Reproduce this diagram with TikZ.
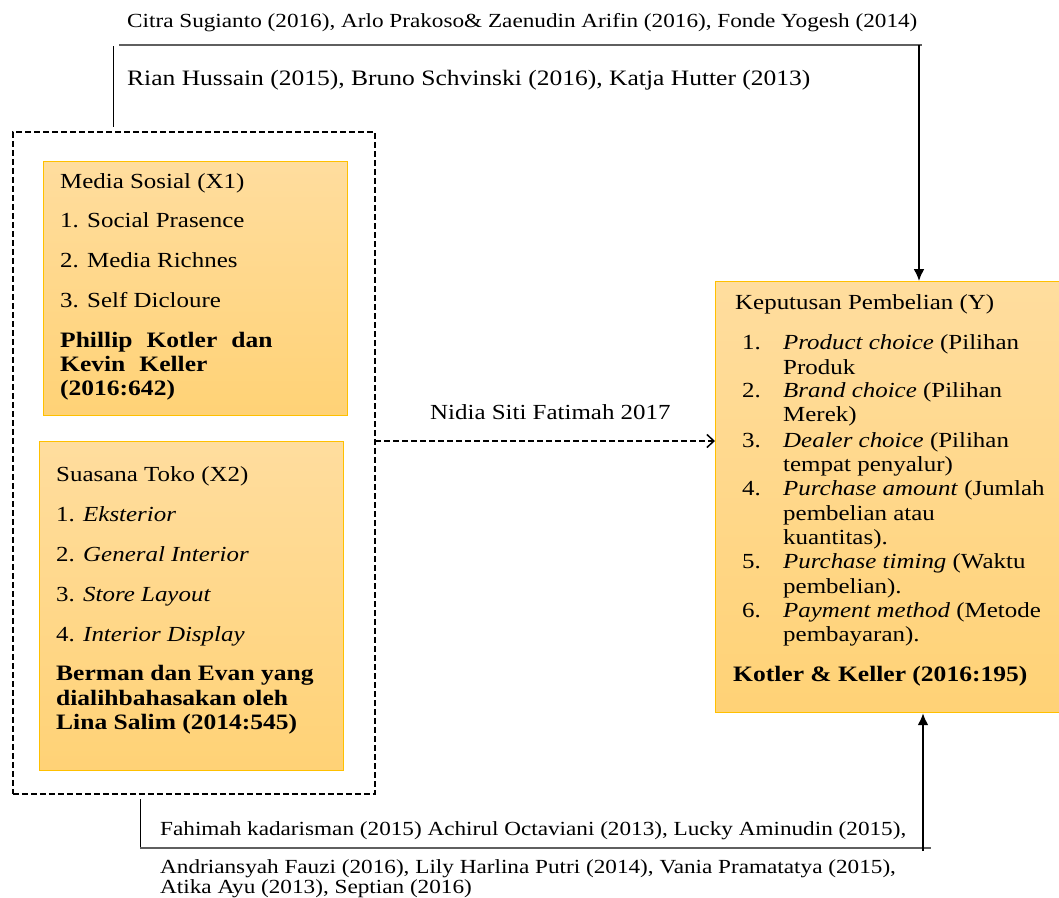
\documentclass[tikz,border=0pt]{standalone}
\usepackage{fontspec}
\setmainfont{Liberation Serif}[FakeStretch=1.16]
\usetikzlibrary{arrows.meta}
\definecolor{boxtop}{RGB}{255,221,158}
\definecolor{boxbot}{RGB}{255,210,118}
\definecolor{boxedge}{RGB}{255,192,0}
\definecolor{linegray}{RGB}{95,95,95}
\tikzset{
  obox/.style={draw=boxedge, line width=1.2pt, top color=boxtop, bottom color=boxbot, anchor=north west, inner sep=0pt},
  txt/.style={inner sep=0pt, anchor=base west, font=\fontsize{21.5}{24}\selectfont},
  btxt/.style={inner sep=0pt, anchor=base west, font=\fontsize{22}{24}\selectfont\bfseries},
  cite/.style={inner sep=0pt, anchor=base west, font=\fontsize{20}{24}\selectfont},
  thinline/.style={draw=black, line width=1pt},
  grayline/.style={draw=linegray, line width=1.6pt},
  solidarrow/.style={draw=black, line width=2pt, -{Latex[length=12pt,width=11pt]}},
  dasharrow/.style={draw=black, line width=1.8pt, dash pattern=on 6pt off 3pt, -{Straight Barb[length=7pt,width=13pt,line width=1.5pt]}},
  dashbox/.style={draw=black, line width=1.9pt, dash pattern=on 6pt off 3pt, anchor=north west, inner sep=0pt}
}
\begin{document}
\begin{tikzpicture}[x=1pt,y=-1pt]
\useasboundingbox (0,0) rectangle (1059,897);
% dashed grouping box
\node[dashbox, minimum width=362pt, minimum height=662pt] (dbox) at (12,131) {};
% boxes
\node[obox, minimum width=304pt, minimum height=254pt] (x1box) at (43,161) {};
\node[obox, minimum width=304pt, minimum height=329pt] (x2box) at (39,441) {};
\node[obox, minimum width=347pt, minimum height=431pt] (ybox) at (715,281) {};
% X1 texts
\node[txt] (x1a) at (60,188) {Media Sosial (X1)};
\node[txt] (x1b) at (60,227) {1. Social Prasence};
\node[txt] (x1c) at (60,267) {2. Media Richnes};
\node[txt] (x1d) at (60,307) {3. Self Dicloure};
\node[btxt] (x1e) at (60,347) {Phillip\hspace{14pt}Kotler\hspace{14pt}dan};
\node[btxt] (x1f) at (60,371) {Kevin\hspace{14pt}Keller};
\node[btxt] (x1g) at (60,395) {(2016:642)};
% X2 texts
\node[txt] (x2a) at (56,481) {Suasana Toko (X2)};
\node[txt] (x2b) at (56,521) {1. \textit{Eksterior}};
\node[txt] (x2c) at (56,561) {2. \textit{General Interior}};
\node[txt] (x2d) at (56,601) {3. \textit{Store Layout}};
\node[txt] (x2e) at (56,641) {4. \textit{Interior Display}};
\node[btxt] (x2f) at (56,680) {Berman dan Evan yang};
\node[btxt] (x2g) at (56,705) {dialihbahasakan oleh};
\node[btxt] (x2h) at (56,729) {Lina Salim (2014:545)};
% Y texts
\node[txt] (ya) at (735,309) {Keputusan Pembelian (Y)};
\node[txt] (yn1) at (742,349) {1.};
\node[txt] (y1a) at (783,349) {\textit{Product choice} (Pilihan};
\node[txt] (y1b) at (783,374) {Produk};
\node[txt] (yn2) at (742,397) {2.};
\node[txt] (y2a) at (783,397) {\textit{Brand choice} (Pilihan};
\node[txt] (y2b) at (783,421) {Merek)};
\node[txt] (yn3) at (742,447) {3.};
\node[txt] (y3a) at (783,447) {\textit{Dealer choice} (Pilihan};
\node[txt] (y3b) at (783,471) {tempat penyalur)};
\node[txt] (yn4) at (742,495) {4.};
\node[txt] (y4a) at (783,495) {\textit{Purchase amount} (Jumlah};
\node[txt] (y4b) at (783,520) {pembelian atau};
\node[txt] (y4c) at (783,544) {kuantitas).};
\node[txt] (yn5) at (742,568) {5.};
\node[txt] (y5a) at (783,568) {\textit{Purchase timing} (Waktu};
\node[txt] (y5b) at (783,593) {pembelian).};
\node[txt] (yn6) at (742,617) {6.};
\node[txt] (y6a) at (783,617) {\textit{Payment method} (Metode};
\node[txt] (y6b) at (783,641) {pembayaran).};
\node[btxt] (yk) at (733,681) {Kotler \& Keller (2016:195)};
% citation texts
\node[cite] (c1) at (127,27) {Citra Sugianto (2016), Arlo Prakoso\& Zaenudin Arifin (2016), Fonde Yogesh (2014)};
\node[cite, font=\fontsize{22}{24}\selectfont] (c2) at (127,85) {Rian Hussain (2015), Bruno Schvinski (2016), Katja Hutter (2013)};
\node[cite] (c3) at (160,835) {Fahimah kadarisman (2015) Achirul Octaviani (2013), Lucky Aminudin (2015),};
\node[cite] (c4) at (160,873) {Andriansyah Fauzi (2016), Lily Harlina Putri (2014), Vania Pramatatya (2015),};
\node[cite] (c5) at (160,893) {Atika Ayu (2013), Septian (2016)};
\node[txt] (lbl) at (430,419) {Nidia Siti Fatimah 2017};
% connector coordinates
\coordinate (tl1) at (113,46);
\coordinate (tl2) at (113,127);
\coordinate (th1) at (119,45);
\coordinate (th2) at (922,45);
\coordinate (tv) at (919,45);
\coordinate (bl1) at (140,799);
\coordinate (bl2) at (140,848);
\coordinate (bh2) at (931,848);
\coordinate (bv) at (923,851);
\coordinate (da) at (375,441);
% connectors
\draw[thinline] (tl1) -- (tl2);
\draw[grayline, line width=1.3pt] (th1) -- (th2);
\draw[solidarrow] (tv) -- (tv |- ybox.north);
\draw[thinline] (bl1) -- (bl2);
\draw[grayline] (bl2) -- (bh2);
\draw[solidarrow] (bv) -- (bv |- ybox.south);
\draw[dasharrow] (da) -- (da -| ybox.west);
\end{tikzpicture}
\end{document}
